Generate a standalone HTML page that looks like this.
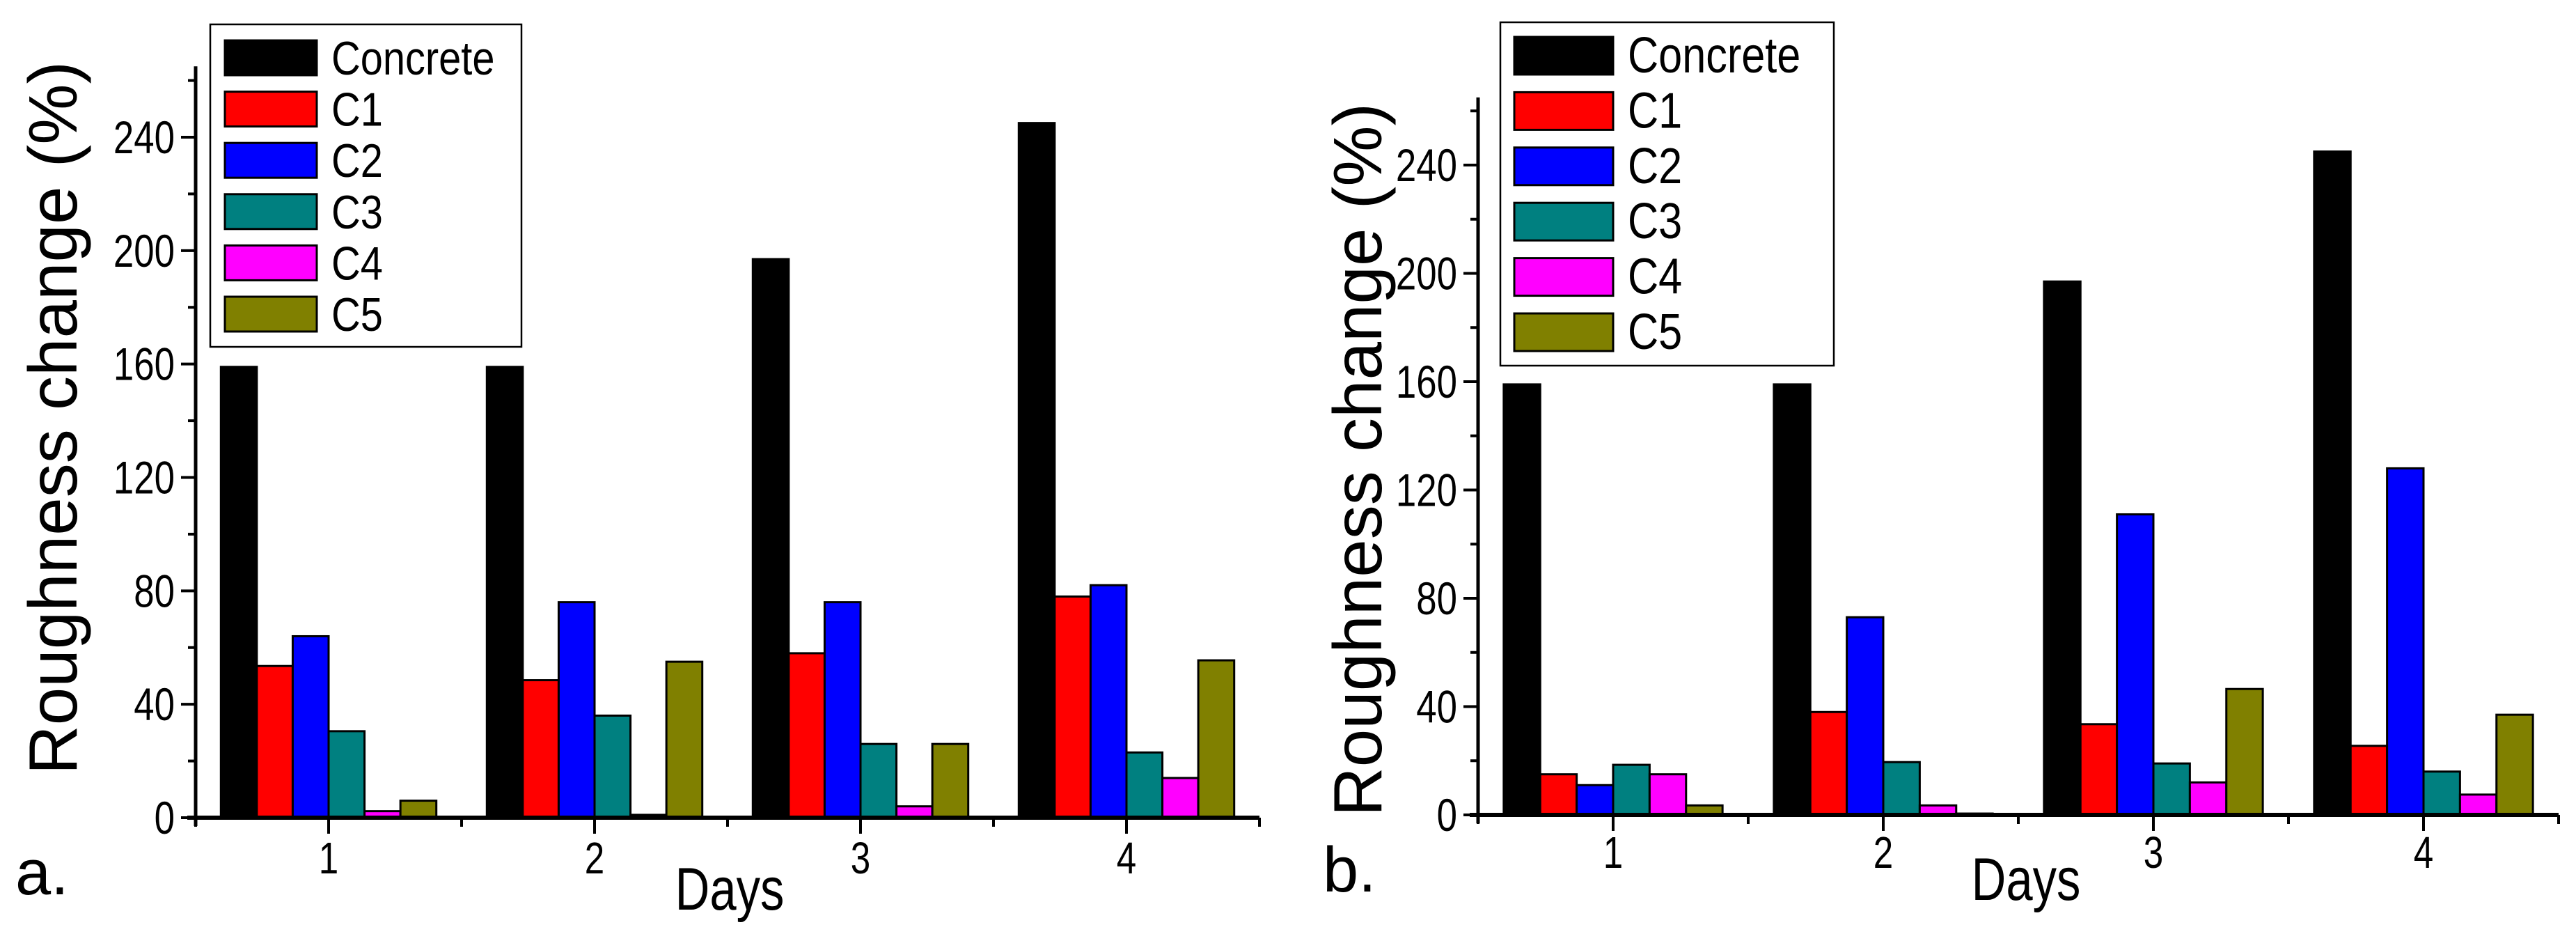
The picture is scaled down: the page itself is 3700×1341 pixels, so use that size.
<!DOCTYPE html>
<html><head><meta charset="utf-8"><style>
html,body{margin:0;padding:0;background:#fff;}
svg{display:block;font-family:"Liberation Sans",sans-serif;}
</style></head><body>
<svg id="fig" width="3700" height="1341" viewBox="0 0 3700 1341" xmlns="http://www.w3.org/2000/svg"></svg>
<script>
const categories = ["1","2","3","4"];
const seriesNames = ["Concrete","C1","C2","C3","C4","C5"];
const seriesColors = ["#000000","#ff0000","#0000ff","#008080","#ff00ff","#808000"];
const yTicks = [0,40,80,120,160,200,240];
const concreteA = [159,159,197,245];
const c1A = [53.5,48.5,58,78];
const c2A = [64,76,76,82];
const c3A = [30.5,36,26,23];
const c4A = [2.3,1,4,14];
const c5A = [6,55,26,55.5];
const concreteB = [159,159,197,245];
const c1B = [15,38,33.5,25.5];
const c2B = [11,73,111,128];
const c3B = [18.5,19.5,19,16];
const c4B = [15,3.5,12,7.5];
const c5B = [3.5,0.5,46.5,37];

const NS="http://www.w3.org/2000/svg";
const svg=document.getElementById('fig');
function mk(tag,attrs,parent,text){const e=document.createElementNS(NS,tag);for(const k in attrs)e.setAttribute(k,attrs[k]);if(text!==undefined)e.textContent=text;(parent||svg).appendChild(e);return e;}

function panel(p){
  const g=mk('g',{});
  
  
  const yMax=265;
  const Y=v=>p.y0-(v/240)*(p.y0-p.y240);
  const X=i=>p.x1+i*p.sp;
  const bw=p.sp*0.135;
  const xStart=p.x1-p.sp/2, xEnd=X(3)+p.sp/2;
  p.series.forEach((arr,s)=>{
    arr.forEach((v,i)=>{
      const x=X(i)-3*bw+s*bw;
      const r=mk('rect',{x:x,y:Y(v),width:bw,height:p.y0-Y(v),fill:seriesColors[s],stroke:'#000','stroke-width':3},g);
      
      
    });
  });
  const ya=mk('g',{},g);
  
  
  mk('line',{x1:xStart,y1:Y(yMax),x2:xStart,y2:p.y0+12,stroke:'#000','stroke-width':5},ya);
  for(let v=20;v<=260;v+=40){mk('line',{x1:xStart-11,y1:Y(v),x2:xStart,y2:Y(v),stroke:'#000','stroke-width':4},ya);}
  yTicks.forEach(v=>{
    mk('line',{x1:xStart-21,y1:Y(v),x2:xStart,y2:Y(v),stroke:'#000','stroke-width':4},ya);
    const t=mk('text',{transform:`translate(${xStart-30},${Y(v)+23}) scale(0.8,1)`,'font-size':66,'text-anchor':'end'},ya,String(v));
    
    
  });
  const xa=mk('g',{},g);
  
  
  mk('line',{x1:xStart-12,y1:p.y0,x2:xEnd,y2:p.y0,stroke:'#000','stroke-width':6},xa);
  for(let i=0;i<=4;i++){const x=xStart+i*p.sp;mk('line',{x1:x,y1:p.y0,x2:x,y2:p.y0+13,stroke:'#000','stroke-width':4},xa);}
  categories.forEach((c,i)=>{
    mk('line',{x1:X(i),y1:p.y0,x2:X(i),y2:p.y0+23,stroke:'#000','stroke-width':4},xa);
    const t=mk('text',{transform:`translate(${X(i)},${p.y0+p.tickDy}) scale(0.8,1)`,'font-size':64,'text-anchor':'middle'},xa,c);
    
    
  });
  const xt=mk('text',{transform:`translate(${p.daysX},${p.y0+p.daysDy}) scale(0.8,1)`,'font-size':86,'text-anchor':'middle'},g,'Days');
  
  
  const yt=mk('text',{transform:`translate(${p.ytX},${p.ytY}) rotate(-90)`,'font-size':98,'text-anchor':'middle'},g,'Roughness change (%)');
  
  
  const pl=mk('text',{x:p.labX,y:p.y0+110,'font-size':92},g,p.label);
  
  
  const L=p.leg;
  const lg=mk('g',{},g);
  
  
  mk('rect',{x:L.x,y:L.y,width:L.w,height:L.h,fill:'#fff',stroke:'#000','stroke-width':2.5},lg);
  seriesNames.forEach((n,s)=>{
    const cy=L.r0+s*L.dr;
    const e=mk('g',{},lg);
    
    
    mk('rect',{x:L.sx,y:cy-L.sh/2,width:L.sw,height:L.sh,fill:seriesColors[s],stroke:'#000','stroke-width':3},e);
    mk('text',{transform:`translate(${L.tx},${cy+24}) scale(0.85,1)`,'font-size':L.fs},e,n);
  });
}

panel({id:'a',x1:472,sp:382,y0:1174,y240:197,series:[concreteA,c1A,c2A,c3A,c4A,c5A],
  daysX:1048,daysDy:132,tickDy:80,ytX:110,ytY:600,labX:22,label:'a.',
  leg:{x:302,y:35,w:447,h:463,r0:83,dr:73.6,sx:323,sw:132,sh:50,tx:476,fs:68}});
panel({id:'b',x1:2317,sp:388,y0:1170,y240:237,series:[concreteB,c1B,c2B,c3B,c4B,c5B],
  daysX:2910,daysDy:122,tickDy:76,ytX:1984,ytY:660,labX:1900,label:'b.',
  leg:{x:2155,y:32,w:479,h:493,r0:80,dr:79.4,sx:2175,sw:142,sh:54,tx:2338,fs:72}});
</script>
</body></html>
